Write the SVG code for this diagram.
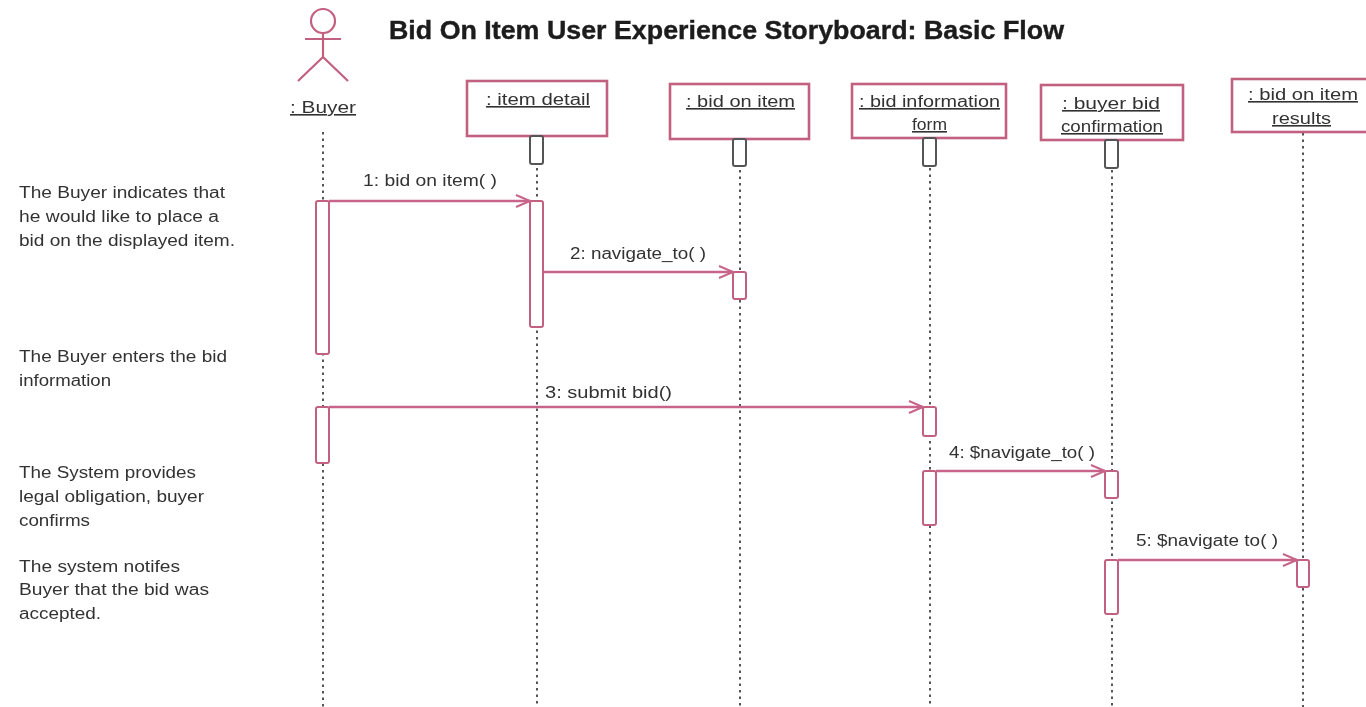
<svg xmlns="http://www.w3.org/2000/svg" width="1366" height="707" viewBox="0 0 1366 707">
<defs>
<style>
text{font-family:"Liberation Sans",Arial,sans-serif;fill:#333;font-size:16px}
.t{font-size:26px;font-weight:bold;fill:#1c1c1c;stroke:#1c1c1c;stroke-width:.4}
.m{text-decoration:underline}
.b{fill:#fff;stroke:#c2607f;stroke-width:2.6}
.a{fill:#fff;stroke:#c2607f;stroke-width:2}
.g{fill:#fff;stroke:#555;stroke-width:2}
.l{stroke:#555;stroke-width:2;stroke-dasharray:2.5 4;fill:none}
.c{stroke:#c8648a;stroke-width:2.4;fill:none}
</style>
<filter id="soft" filterUnits="userSpaceOnUse" x="0" y="0" width="1366" height="707"><feGaussianBlur stdDeviation="0.6"/></filter>
<marker id="o" markerUnits="userSpaceOnUse" markerWidth="18" markerHeight="16" refX="16" refY="8" orient="auto"><path d="M2 2L16 8L2 14" fill="none" stroke="#c8648a" stroke-width="2"/></marker>
</defs>
<rect width="1366" height="707" fill="#fff"/>
<g filter="url(#soft)">
<text class="t" x="389" y="39" textLength="675" lengthAdjust="spacingAndGlyphs">Bid On Item User Experience Storyboard: Basic Flow</text>
<g id="lifelines">
<path class="l" d="M323 132V707M537 168V707M740 170V707M930 168V707M1112 170V707M1303 133V707"/>
</g>
<g id="buyer">
<circle cx="323" cy="21" r="12" fill="#fff" stroke="#c2607f" stroke-width="2.2"/>
<path d="M323 33V57M305 39H341M323 57L298 81M323 57L348 81" fill="none" stroke="#c2607f" stroke-width="2.2"/>
<text class="m" x="290" y="113" textLength="66" lengthAdjust="spacingAndGlyphs">: Buyer</text>
<rect class="a" x="316" y="201" width="13" height="153" rx="2"/>
<rect class="a" x="316" y="407" width="13" height="56" rx="2"/>
</g>
<g id="item-detail">
<rect class="b" x="467" y="81" width="140" height="55"/>
<text class="m" x="486" y="105" textLength="104" lengthAdjust="spacingAndGlyphs">: item detail</text>
<rect class="g" x="530" y="136" width="13" height="28" rx="2"/>
<rect class="a" x="530" y="201" width="13" height="126" rx="2"/>
</g>
<g id="bid-on-item">
<rect class="b" x="670" y="84" width="139" height="55"/>
<text class="m" x="686" y="107" textLength="109" lengthAdjust="spacingAndGlyphs">: bid on item</text>
<rect class="g" x="733" y="139" width="13" height="27" rx="2"/>
<rect class="a" x="733" y="272" width="13" height="27" rx="2"/>
</g>
<g id="bid-information-form">
<rect class="b" x="852" y="84" width="154" height="54"/>
<text class="m" x="859" y="107" textLength="141" lengthAdjust="spacingAndGlyphs">: bid information</text>
<text class="m" x="912" y="130" textLength="35" lengthAdjust="spacingAndGlyphs">form</text>
<rect class="g" x="923" y="138" width="13" height="28" rx="2"/>
<rect class="a" x="923" y="407" width="13" height="29" rx="2"/>
<rect class="a" x="923" y="471" width="13" height="54" rx="2"/>
</g>
<g id="buyer-bid-confirmation">
<rect class="b" x="1041" y="85" width="142" height="55"/>
<text class="m" x="1062" y="109" textLength="98" lengthAdjust="spacingAndGlyphs">: buyer bid</text>
<text class="m" x="1061" y="132" textLength="102" lengthAdjust="spacingAndGlyphs">confirmation</text>
<rect class="g" x="1105" y="140" width="13" height="28" rx="2"/>
<rect class="a" x="1105" y="471" width="13" height="27" rx="2"/>
<rect class="a" x="1105" y="560" width="13" height="54" rx="2"/>
</g>
<g id="bid-on-item-results">
<rect class="b" x="1232" y="79" width="140" height="53"/>
<text class="m" x="1248" y="100" textLength="110" lengthAdjust="spacingAndGlyphs">: bid on item</text>
<text class="m" x="1272" y="124" textLength="59" lengthAdjust="spacingAndGlyphs">results</text>
<rect class="a" x="1297" y="560" width="12" height="27" rx="2"/>
</g>
<g id="connectors">
<path class="c" marker-end="url(#o)" d="M329 201H530"/>
<path class="c" marker-end="url(#o)" d="M543 272H733"/>
<path class="c" marker-end="url(#o)" d="M329 407H923"/>
<path class="c" marker-end="url(#o)" d="M936 471H1105"/>
<path class="c" marker-end="url(#o)" d="M1118 560H1297"/>
</g>
<g id="labels">
<text x="363" y="186" textLength="134" lengthAdjust="spacingAndGlyphs">1: bid on item( )</text>
<text x="570" y="259" textLength="136" lengthAdjust="spacingAndGlyphs">2: navigate_to( )</text>
<text x="545" y="398" textLength="127" lengthAdjust="spacingAndGlyphs">3: submit bid()</text>
<text x="949" y="458" textLength="146" lengthAdjust="spacingAndGlyphs">4: $navigate_to( )</text>
<text x="1136" y="546" textLength="142" lengthAdjust="spacingAndGlyphs">5: $navigate to( )</text>
<text x="19" y="198" textLength="206" lengthAdjust="spacingAndGlyphs">The Buyer indicates that</text>
<text x="19" y="222" textLength="200" lengthAdjust="spacingAndGlyphs">he would like to place a</text>
<text x="19" y="246" textLength="216" lengthAdjust="spacingAndGlyphs">bid on the displayed item.</text>
<text x="19" y="362" textLength="208" lengthAdjust="spacingAndGlyphs">The Buyer enters the bid</text>
<text x="19" y="386" textLength="92" lengthAdjust="spacingAndGlyphs">information</text>
<text x="19" y="478" textLength="177" lengthAdjust="spacingAndGlyphs">The System provides</text>
<text x="19" y="502" textLength="185" lengthAdjust="spacingAndGlyphs">legal obligation, buyer</text>
<text x="19" y="526" textLength="71" lengthAdjust="spacingAndGlyphs">confirms</text>
<text x="19" y="572" textLength="161" lengthAdjust="spacingAndGlyphs">The system notifes</text>
<text x="19" y="595" textLength="190" lengthAdjust="spacingAndGlyphs">Buyer that the bid was</text>
<text x="19" y="619" textLength="82" lengthAdjust="spacingAndGlyphs">accepted.</text>
</g>
</g>
</svg>
